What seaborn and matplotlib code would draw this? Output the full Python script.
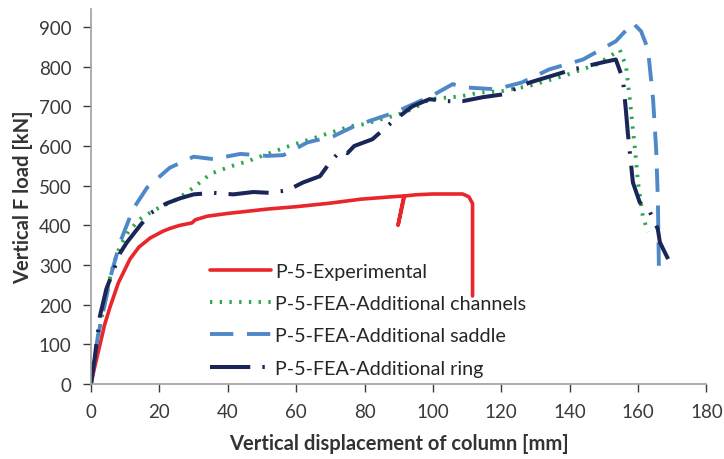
import seaborn as sns
import matplotlib.pyplot as plt
import pandas as pd

# Load-displacement curves
exp_x = [0, 1, 2.5, 4, 5.6, 8, 11.4, 14, 17.3, 21, 23, 26, 29.5, 30.5, 34, 40, 51.6,
         60, 70, 79, 88, 91.5, 89.8, 91.7, 95, 100, 108.7, 110.5, 111.6, 111.6]
exp_y = [0, 40, 95, 150, 195, 255, 315, 345, 368, 385, 392, 400, 406, 414, 423, 430, 441,
         447, 456, 466, 472, 474, 400, 474, 477, 479, 479, 472, 455, 222]

chan_x = [0, 1, 2.5, 4.5, 6.5, 8.5, 11, 14.4, 17.3, 20, 25, 30, 35, 41, 46, 50, 58, 67,
          76, 80, 90, 94, 99, 108, 114, 120, 128, 138, 148, 154.7, 156.5, 157.6, 159.1,
          160, 161.4, 162.9]
chan_y = [0, 60, 140, 230, 300, 348, 385, 416, 432, 445, 465, 495, 530, 549, 562, 575, 600, 625,
          650, 655, 680, 693, 718, 725, 735, 738, 751, 776, 806, 842, 801, 718, 592,
          508, 423, 383]

sad_x = [0, 0.6, 2, 4, 6, 8.5, 12.3, 16.4, 23, 30, 35.7, 43.7, 51.6, 56.3, 63.3, 71, 77,
         89, 100, 105.8, 108.7, 118.4, 126, 134, 143.9, 153.5, 158.5, 160.9, 162.9, 164.4,
         165.3, 165.8, 166.1]
sad_y = [0, 40, 120, 200, 280, 357, 441, 495, 545, 573, 567, 580, 575, 577, 609, 625, 650,
         685, 728, 756, 748, 743, 760, 793, 818, 864, 910, 889, 844, 718,
         592, 466, 297]

ring_x = [0, 1, 2.6, 4.5, 6.4, 8.5, 10.5, 14.4, 17.3, 22, 26, 30, 35.7, 41.6, 47.5, 52,
          57.4, 62, 67, 70, 73, 75, 77, 82.3, 88, 94, 99, 104, 108.7, 114.6, 120.4, 128.3,
          141, 149.7, 153.5, 155.6, 156.5, 157, 157.6, 158.5, 160.5, 163.5, 165.8, 166.4, 168.8]
ring_y = [0, 60, 171, 240, 282, 330, 357, 400, 430, 455, 468, 478, 482, 478, 484, 482,
          488, 508, 524, 560, 588, 582, 600, 617, 660, 700, 718, 713, 713, 723, 730, 760,
          793, 811, 818, 768, 685, 634, 584, 508, 458, 433, 390, 357, 315]

labels = ['P-5-Experimental', 'P-5-FEA-Additional channels',
          'P-5-FEA-Additional saddle', 'P-5-FEA-Additional ring']

sns.set_style('ticks')
plt.rcParams['font.family'] = ['Lato', 'DejaVu Sans']

fig = plt.figure(figsize=(7.24, 4.60), dpi=100)
ax = fig.add_axes([0.1257, 0.163, 0.85, 0.815])

series = [
    (exp_x, exp_y, '#e8262b', '-', 2.6),
    (chan_x, chan_y, '#2aa84a', (0, (0.6, 1.9)), 2.8),
    (sad_x, sad_y, '#4f88c8', (0, (6, 3.5)), 2.8),
    (ring_x, ring_y, '#1b2658', (0, (10, 3, 0.6, 3)), 2.9),
]
for (xs, ys, col, ls, lw), lab in zip(series, labels):
    df = pd.DataFrame({'x': xs, 'y': ys})
    sns.lineplot(data=df, x='x', y='y', sort=False, estimator=None, ax=ax,
                 color=col, linestyle=ls, linewidth=lw, label=lab)

ax.set_xlim(0, 180)
ax.set_ylim(0, 945)
ax.set_xticks(range(0, 181, 20))
ax.set_yticks(range(0, 901, 100))
ax.tick_params(labelsize=13.5, colors='#3a3a3a', length=6, width=1, pad=8)
for t in ax.get_xticklines() + ax.get_yticklines():
    t.set_color('#a0a0a0')
sns.despine(ax=ax)
for s in ['left', 'bottom']:
    ax.spines[s].set_color('#a0a0a0')
    ax.spines[s].set_linewidth(1.2)

ax.set_xlabel('Vertical displacement of column [mm]', fontsize=14.5, fontweight='bold',
              color='#333333', labelpad=9)
ax.set_ylabel('Vertical F load [kN]', fontsize=14.5, fontweight='bold',
              color='#333333', labelpad=4)

ax.legend(loc='upper left', bbox_to_anchor=(0.18, 0.345), frameon=False, fontsize=14.2,
          handlelength=3.1, handletextpad=0.2, labelspacing=0.78, borderaxespad=0)

plt.savefig('out.png', dpi=100)
